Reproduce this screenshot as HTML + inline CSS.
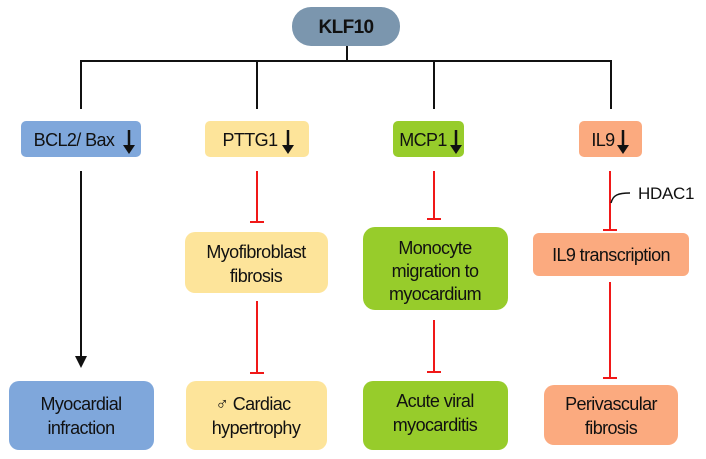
<!DOCTYPE html>
<html><head><meta charset="utf-8"><style>
body{margin:0;background:#fff;}
svg{display:block;font-family:"Liberation Sans",sans-serif;}
text{font-size:18px;fill:#111;text-anchor:middle;letter-spacing:-0.6px;}
</style></head><body>
<svg width="706" height="459" viewBox="0 0 706 459">
<g stroke="#111" stroke-width="2" fill="none">
<line x1="347" y1="46" x2="347" y2="61"/>
<line x1="80" y1="61" x2="612" y2="61"/>
<line x1="81" y1="60" x2="81" y2="109"/>
<line x1="257" y1="60" x2="257" y2="109"/>
<line x1="434" y1="60" x2="434" y2="109"/>
<line x1="611" y1="60" x2="611" y2="109"/>
<line x1="81" y1="171" x2="81" y2="364"/>
</g>
<polygon points="75,356 87,356 81,368" fill="#111"/>
<g stroke="#f01818" stroke-width="2" fill="none">
<line x1="257" y1="171" x2="257" y2="222"/><line x1="250" y1="222" x2="264" y2="222"/>
<line x1="257" y1="301" x2="257" y2="373"/><line x1="250" y1="373" x2="264" y2="373"/>
<line x1="434" y1="171" x2="434" y2="219"/><line x1="427" y1="219" x2="441" y2="219"/>
<line x1="434" y1="320" x2="434" y2="372"/><line x1="427" y1="372" x2="441" y2="372"/>
<line x1="610" y1="171" x2="610" y2="230"/><line x1="603" y1="230" x2="617" y2="230"/>
<line x1="610" y1="282" x2="610" y2="378"/><line x1="603" y1="378" x2="617" y2="378"/>
</g>
<path d="M611 203 C613 195,618 193,630 193" stroke="#111" stroke-width="1.5" fill="none"/>
<text x="638" y="199" style="text-anchor:start;font-size:17px;letter-spacing:-0.3px">HDAC1</text>

<g><rect x="292" y="7" width="108" height="39" rx="19" fill="#7b96ae"/><text x="346" y="33" style="font-weight:bold;font-size:19px">KLF10</text></g>

<g><rect x="21" y="121" width="120" height="36" rx="5" fill="#7fa7db"/><text x="74" y="146">BCL2/ Bax</text></g>
<g><rect x="205" y="121" width="104" height="36" rx="5" fill="#fde49a"/><text x="250" y="146">PTTG1</text></g>
<g><rect x="393" y="121" width="71" height="36" rx="5" fill="#97cc2b"/><text x="423" y="146">MCP1</text></g>
<g><rect x="579" y="121" width="63" height="36" rx="5" fill="#fbaa7f"/><text x="603" y="146">IL9</text></g>
<g stroke="#111" stroke-width="2.5">
<line x1="129" y1="130" x2="129" y2="148"/><line x1="288" y1="130" x2="288" y2="148"/><line x1="456" y1="130" x2="456" y2="148"/><line x1="623" y1="130" x2="623" y2="148"/>
</g>
<g fill="#111">
<polygon points="123,145 135,145 129,154"/><polygon points="282,145 294,145 288,154"/><polygon points="450,145 462,145 456,154"/><polygon points="617,145 629,145 623,154"/>
</g>

<g><rect x="185" y="232" width="143" height="61" rx="10" fill="#fde49a"/><text x="256" y="258">Myofibroblast</text><text x="256" y="282">fibrosis</text></g>
<g><rect x="363" y="227" width="145" height="83" rx="12" fill="#97cc2b"/><text x="435" y="254">Monocyte</text><text x="435" y="277">migration to</text><text x="435" y="300">myocardium</text></g>
<g><rect x="533" y="233" width="156" height="43" rx="6" fill="#fbaa7f"/><text x="611" y="261">IL9 transcription</text></g>

<g><rect x="9" y="381" width="145" height="69" rx="10" fill="#7fa7db"/><text x="81" y="410">Myocardial</text><text x="81" y="434">infraction</text></g>
<g><rect x="186" y="381" width="141" height="69" rx="10" fill="#fde49a"/><text x="253" y="410">♂ Cardiac</text><text x="256" y="434">hypertrophy</text></g>
<g><rect x="363" y="381" width="145" height="69" rx="10" fill="#97cc2b"/><text x="435" y="407">Acute viral</text><text x="435" y="431">myocarditis</text></g>
<g><rect x="544" y="385" width="134" height="60" rx="10" fill="#fbaa7f"/><text x="611" y="410">Perivascular</text><text x="611" y="434">fibrosis</text></g>
</svg>
</body></html>
